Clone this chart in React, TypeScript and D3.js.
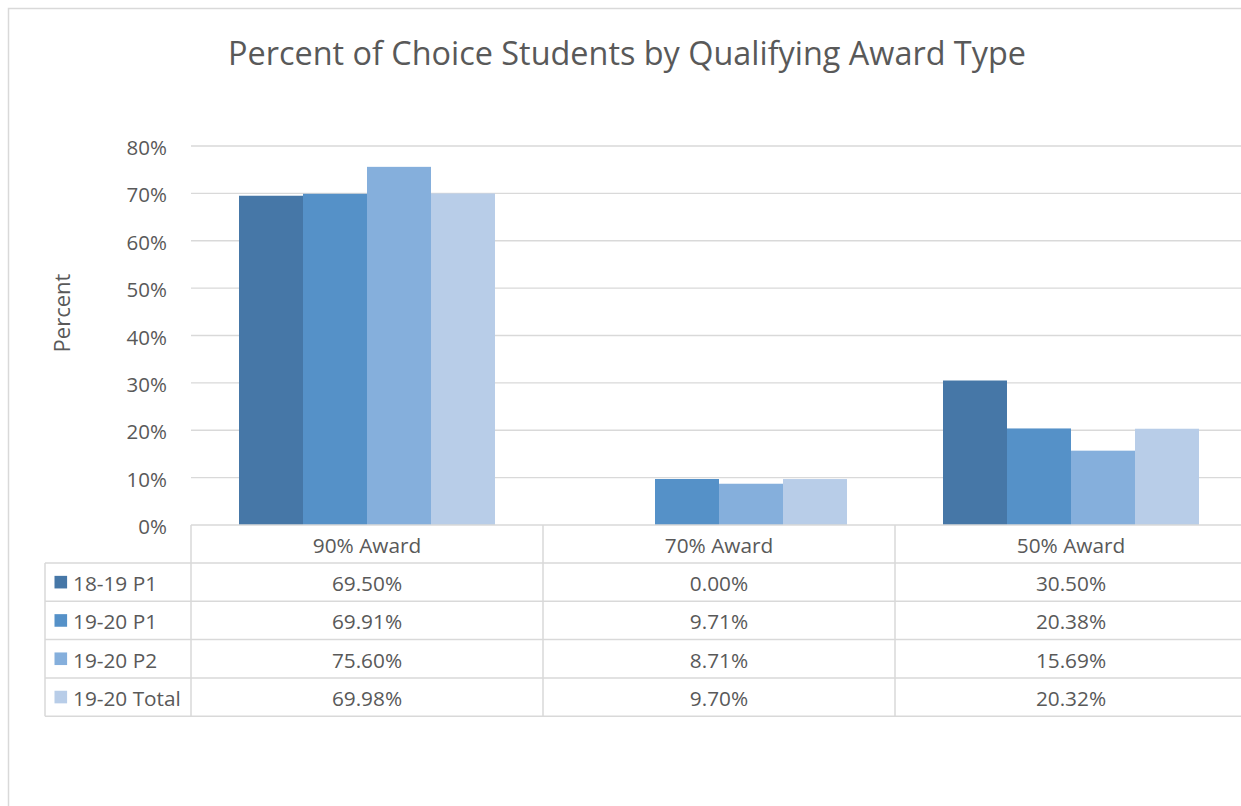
import React from "react";
import * as d3 from "d3";

const categories = ["90% Award", "70% Award", "50% Award"];
const seriesNames = ["18-19 P1", "19-20 P1", "19-20 P2", "19-20 Total"];
const s1819P1 = [69.5, 0.0, 30.5];
const s1920P1 = [69.91, 9.71, 20.38];
const s1920P2 = [75.6, 8.71, 15.69];
const s1920Total = [69.98, 9.7, 20.32];
const yTicks = [0, 10, 20, 30, 40, 50, 60, 70, 80];
const colors = ["#4677A7", "#5591C8", "#85AFDC", "#B8CDE8"];

const seriesValues = [s1819P1, s1920P1, s1920P2, s1920Total];

export default function App() {
  const W = 1241;
  const H = 806;
  const font = "'Open Sans', sans-serif";
  const textColor = "#595959";
  const gridColor = "#D9D9D9";

  const plotLeft = 191;
  const plotRight = 1247;
  const y0 = 525;
  const yTop = 146;

  const x = d3.scaleBand<string>().domain(categories).range([plotLeft, plotRight]).paddingInner(0).paddingOuter(0);
  const bw = x.bandwidth();
  const xs = d3.scaleBand<string>().domain(seriesNames).range([bw * 48 / 352, bw * 304 / 352]).padding(0);
  const y = d3.scaleLinear().domain([0, 80]).range([y0, yTop]);

  const tableLeft = 45;
  const rowTops = [563, 601.3, 639.6, 677.9];
  const rowH = 38.3;
  const tableBottom = rowTops[3] + rowH;
  const fs = 20.8;

  return (
    <svg
      width={W}
      height={H}
      style={{ position: "absolute", left: 0, top: 0, display: "block", background: "#fff" }}
      fontFamily={font}
    >
      <rect x={8.5} y={8.5} width={1400} height={1000} fill="#fff" stroke={gridColor} strokeWidth={1.5} />
      <text x={627} y={52} textAnchor="middle" dominantBaseline="central" fontSize={32.4} fill={textColor}>
        Percent of Choice Students by Qualifying Award Type
      </text>

      {yTicks.map((t) => (
        <g key={t}>
          {t > 0 && (
            <line x1={plotLeft} x2={plotRight} y1={y(t)} y2={y(t)} stroke={gridColor} strokeWidth={1.3} />
          )}
          <text x={167} y={y(t) + 1} textAnchor="end" dominantBaseline="central" fontSize={20.5} fill={textColor}>
            {t}%
          </text>
        </g>
      ))}

      <text
        transform={`translate(61,313) rotate(-90)`}
        textAnchor="middle"
        dominantBaseline="central"
        fontSize={22}
        fill={textColor}
      >
        Percent
      </text>

      {categories.map((c, ci) =>
        seriesNames.map((s, si) => {
          const v = seriesValues[si][ci];
          const bx = (x(c) as number) + (xs(s) as number);
          return (
            <rect
              key={c + s}
              x={bx}
              y={y(v)}
              width={xs.bandwidth()}
              height={y0 - y(v)}
              fill={colors[si]}
            />
          );
        })
      )}

      {/* table */}
      <g stroke={gridColor} strokeWidth={1.5}>
        <line x1={plotLeft} x2={plotRight} y1={y0} y2={y0} />
        {rowTops.map((rt, i) => (
          <line key={i} x1={tableLeft} x2={plotRight} y1={rt} y2={rt} />
        ))}
        <line x1={tableLeft} x2={plotRight} y1={tableBottom} y2={tableBottom} />
        <line x1={tableLeft} x2={tableLeft} y1={rowTops[0]} y2={tableBottom} />
        {categories.map((c) => (
          <line key={c} x1={x(c) as number} x2={x(c) as number} y1={y0} y2={tableBottom} />
        ))}
        <line x1={plotRight} x2={plotRight} y1={y0} y2={tableBottom} />
      </g>

      {categories.map((c) => (
        <text
          key={c}
          x={(x(c) as number) + bw / 2}
          y={(y0 + rowTops[0]) / 2 + 1}
          textAnchor="middle"
          dominantBaseline="central"
          fontSize={fs}
          fill={textColor}
        >
          {c}
        </text>
      ))}

      {seriesNames.map((s, si) => (
        <g key={s}>
          <rect x={54.5} y={rowTops[si] + rowH / 2 - 6.3} width={12.6} height={12.6} fill={colors[si]} />
          <text
            x={73}
            y={rowTops[si] + rowH / 2 + 1}
            dominantBaseline="central"
            fontSize={fs}
            fill={textColor}
          >
            {s}
          </text>
          {categories.map((c, ci) => (
            <text
              key={c}
              x={(x(c) as number) + bw / 2}
              y={rowTops[si] + rowH / 2 + 1}
              textAnchor="middle"
              dominantBaseline="central"
              fontSize={fs}
              fill={textColor}
            >
              {seriesValues[si][ci].toFixed(2)}%
            </text>
          ))}
        </g>
      ))}
    </svg>
  );
}
